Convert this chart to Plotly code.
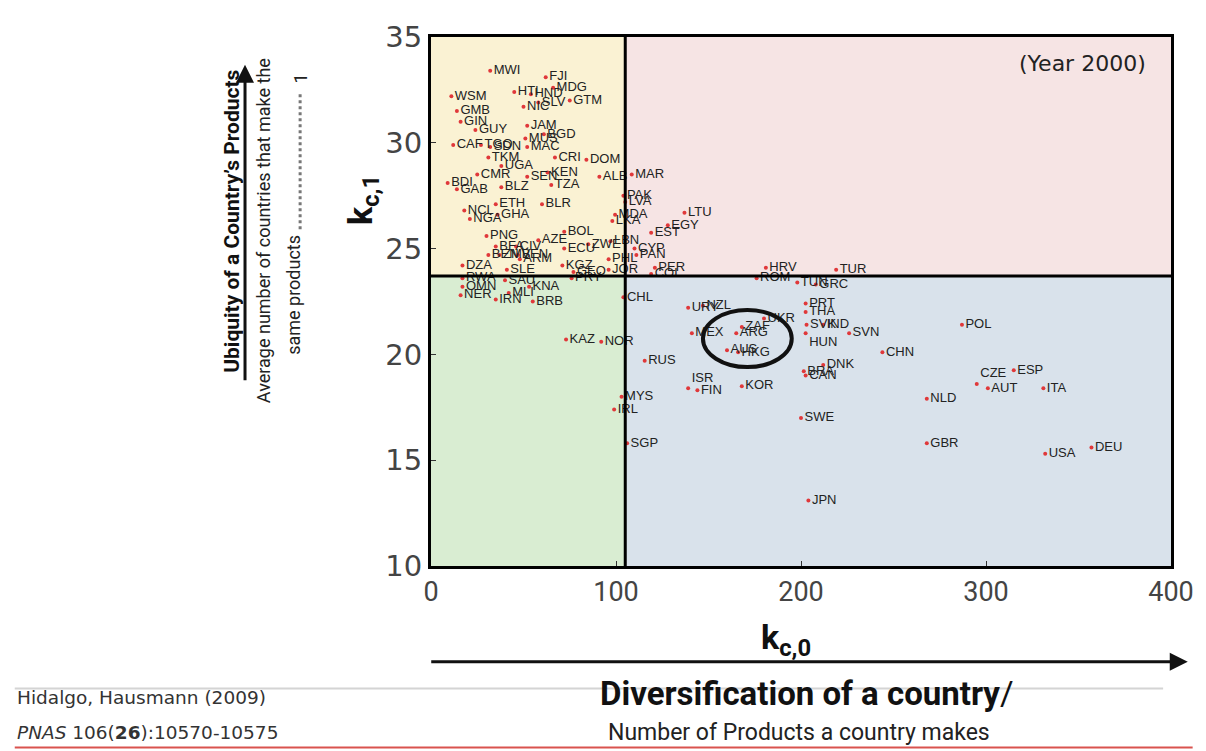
import plotly.graph_objects as go

# country codes, diversification k_c0 and average ubiquity k_c1 (year 2000)
countries = [
    "MWI", "FJI", "MDG", "HTI", "HND", "SLV", "GTM", "NIC", "WSM", "GMB",
    "GIN", "GUY", "JAM", "MUS", "BGD", "TGO", "CAF", "SDN", "MAC", "TKM",
    "CRI", "DOM", "UGA", "SEN", "CMR", "KEN", "ALB", "TZA", "BDI", "GAB",
    "BLZ", "ETH", "NCL", "BLR", "NGA", "GHA", "PNG", "AZE", "BOL", "BFA",
    "CIV", "ECU", "ZWE", "ZMB", "VEN", "BEN", "ARM", "DZA", "KGZ", "PHL",
    "GEO", "PRY", "JOR", "SLE", "RWA", "OMN", "SAU", "KNA", "MLI", "NER",
    "IRN", "BRB", "KAZ", "NOR", "IRL", "CHL", "MYS", "SGP", "RUS", "NZL",
    "URY", "MEX", "ZAF", "ARG", "AUS", "HKG", "UKR", "ISR", "FIN", "KOR",
    "HRV", "TUR", "ROM", "TUN", "GRC", "PRT", "THA", "SVK", "IND", "HUN",
    "SVN", "CHN", "POL", "BRA", "DNK", "CAN", "CZE", "AUT", "ESP", "ITA",
    "NLD", "SWE", "GBR", "USA", "DEU", "JPN", "MAR", "PAK", "LVA", "MDA",
    "LKA", "LTU", "EGY", "EST", "LBN", "CYP", "PAN", "PER", "COL",
]
k_c0 = [
    32, 62, 66, 45, 54, 58, 75, 50, 11, 14,
    16, 24, 52, 51, 61, 27, 12, 32, 52, 31,
    67, 84, 38, 52, 25, 63, 91, 65, 9, 14,
    38, 35, 18, 60, 21, 36, 30, 58, 72, 35,
    46, 72, 85, 37, 47, 31, 48, 17, 71, 96,
    77, 76, 96, 41, 17, 17, 40, 53, 42, 16,
    35, 55, 73, 92, 99, 104, 103, 106, 115.5, 147,
    139, 141, 168, 165, 160, 166, 180, 139, 144, 168,
    181, 219, 176, 198, 208, 202.5, 202.5, 203, 212, 202.5,
    226, 244, 287, 201.5, 212, 202.5, 295, 301, 315, 331,
    268, 200, 268, 332, 357, 204, 108.5, 104, 105, 99.5,
    98, 137, 128, 119, 97, 110, 111, 121, 119,
]
k_c1 = [
    33.4, 33.1, 32.6, 32.4, 32.3, 31.9, 32.0, 31.7, 32.2, 31.5,
    31.0, 30.6, 30.8, 30.2, 30.4, 29.9, 29.9, 29.8, 29.8, 29.3,
    29.3, 29.2, 28.9, 28.4, 28.5, 28.6, 28.4, 28.0, 28.1, 27.8,
    27.9, 27.1, 26.8, 27.1, 26.4, 26.6, 25.6, 25.4, 25.8, 25.1,
    25.1, 25.0, 25.2, 24.7, 24.7, 24.7, 24.5, 24.2, 24.2, 24.5,
    23.9, 23.6, 24.0, 24.0, 23.6, 23.2, 23.5, 23.2, 22.9, 22.8,
    22.6, 22.5, 20.7, 20.6, 17.4, 22.7, 18.0, 15.8, 19.7, 22.3,
    22.2, 21.0, 21.3, 21.0, 20.2, 20.1, 21.7, 18.4, 18.3, 18.5,
    24.1, 24.0, 23.6, 23.4, 23.3, 22.4, 22.0, 21.4, 21.4, 21.0,
    21.0, 20.1, 21.4, 19.2, 19.5, 19.0, 18.6, 18.4, 19.25, 18.4,
    17.9, 17.0, 15.8, 15.3, 15.6, 13.1, 28.5, 27.5, 27.2, 26.6,
    26.3, 26.7, 26.1, 25.75, 25.35, 25.0, 24.7, 24.1, 23.8,
]

x_ticks = [0, 100, 200, 300, 400]
y_ticks = [10, 15, 20, 25, 30, 35]
x_split = 105   # diversification split between quadrants
y_split = 23.7  # ubiquity split between quadrants
circled = [147, 195, 19.4, 22.1]  # x0, x1, y0, y1 of the highlighted group

# labels that sit above / below their dot in the original figure
label_pos = {"ISR": "top right", "CZE": "top right", "HUN": "bottom right"}
text_positions = [label_pos.get(c, "middle right") for c in countries]

# page offset of the browser body margin; figure is drawn inside it
OFF = 8
W, H = 1206 - OFF, 751 - OFF
# plot area in page pixels
L, R, T, B = 431, 1183, 30, 566


def px(x):
    return (x - L) / (R - L)


def py(y):
    return (B - y) / (B - T)


fig = go.Figure()

fig.add_trace(go.Scatter(
    x=k_c0, y=k_c1, text=countries,
    mode="markers+text",
    textposition=text_positions,
    textfont=dict(family="Liberation Sans, Arial", size=13, color="#222"),
    marker=dict(color="#e0383a", size=4),
    hoverinfo="text",
    showlegend=False,
    cliponaxis=False,
))

quad = [
    (0, x_split, y_split, 35, "#faf2d3"),
    (x_split, 400, y_split, 35, "#f6e4e4"),
    (0, x_split, 10, y_split, "#d9edd2"),
    (x_split, 400, 10, y_split, "#d9e2eb"),
]
shapes = []
for x0, x1, y0, y1, col in quad:
    shapes.append(dict(type="rect", xref="x", yref="y", x0=x0, x1=x1, y0=y0, y1=y1,
                       fillcolor=col, line=dict(width=0), layer="below"))
shapes += [
    dict(type="line", xref="x", yref="y", x0=x_split, x1=x_split, y0=10, y1=35,
         line=dict(color="black", width=3)),
    dict(type="line", xref="x", yref="y", x0=0, x1=400, y0=y_split, y1=y_split,
         line=dict(color="black", width=3)),
    dict(type="circle", xref="x", yref="y", x0=circled[0], x1=circled[1],
         y0=circled[2], y1=circled[3], line=dict(color="#111", width=4)),
    # faint rule under the x-axis caption
    dict(type="line", xref="paper", yref="paper", x0=px(OFF), x1=px(1175),
         y0=py(690), y1=py(690), line=dict(color="#d4d4d4", width=2)),
    # dotted leader next to the y caption
    dict(type="line", xref="paper", yref="paper", x0=px(298), x1=px(298),
         y0=py(88), y1=py(225), line=dict(color="#777", width=3, dash="dot")),
    # red page border along the bottom edge
    dict(type="line", xref="paper", yref="paper", x0=px(OFF), x1=px(1205),
         y0=py(750), y1=py(750), line=dict(color="#d9534f", width=2)),
]

cond = "Roboto, Liberation Sans Narrow, sans-serif"
annotations = [
    dict(text="(Year 2000)", x=px(1093), y=py(57), font=dict(family="DejaVu Sans", size=22, color="#222")),
    dict(text="<b>k<sub>c,1</sub></b>", x=px(362), y=py(195), textangle=-90,
         font=dict(family=cond, size=34, color="#111")),
    dict(text="<b>k<sub>c,0</sub></b>", x=px(792), y=py(640),
         font=dict(family=cond, size=34, color="#111")),
    dict(text="<b>Ubiquity of a Country’s Products</b>", x=px(228), y=py(217), textangle=-90,
         font=dict(family=cond, size=21, color="#111")),
    dict(text="Average number of countries that make the", x=px(261), y=py(226), textangle=-90,
         font=dict(family=cond, size=18, color="#222")),
    dict(text="same products", x=px(291), y=py(291), textangle=-90,
         font=dict(family=cond, size=18, color="#222")),
    dict(text="1", x=px(298), y=py(72), textangle=-90,
         font=dict(family=cond, size=18, color="#222")),
    dict(text="<b>Diversification of a country</b>/", x=px(813), y=py(695),
         font=dict(family=cond, size=33, color="#111")),
    dict(text="Number of Products a country makes", x=px(805), y=py(735),
         font=dict(family=cond, size=23, color="#222")),
    dict(text="Hidalgo, Hausmann (2009)", x=px(OFF), y=py(699), xanchor="left",
         font=dict(family="DejaVu Sans", size=18.5, color="#333")),
    dict(text="<i>PNAS</i> 106(<b>26</b>):10570-10575", x=px(OFF), y=py(735), xanchor="left",
         font=dict(family="DejaVu Sans", size=18.5, color="#333")),
    # arrows along the captions
    dict(text="", x=px(1200), y=py(663), ax=442 - 1200, ay=0, showarrow=True,
         arrowhead=2, arrowsize=1.2, arrowwidth=3, arrowcolor="#111"),
    dict(text="", x=px(242), y=py(58), ax=0, ay=375 - 58, showarrow=True,
         arrowhead=2, arrowsize=1.2, arrowwidth=3, arrowcolor="#111"),
]
for a in annotations:
    a.setdefault("xref", "paper")
    a.setdefault("yref", "paper")
    a.setdefault("xanchor", "center")
    a.setdefault("yanchor", "middle")
    a.setdefault("showarrow", False)

fig.update_layout(
    width=W, height=H,
    margin=dict(l=L - OFF, r=1206 - R, t=T - OFF, b=751 - B),
    paper_bgcolor="white", plot_bgcolor="white",
    shapes=shapes, annotations=annotations,
    xaxis=dict(range=[0, 400], tickvals=x_ticks, showgrid=False, zeroline=False,
               showline=True, linecolor="black", linewidth=3, mirror=True,
               ticks="inside", ticklen=5, tickcolor="#333",
               tickfont=dict(family=cond, size=27, color="#444")),
    yaxis=dict(range=[10, 35], tickvals=y_ticks, showgrid=False, zeroline=False,
               showline=True, linecolor="black", linewidth=3, mirror=True,
               ticks="inside", ticklen=5, tickcolor="#333",
               tickfont=dict(family="DejaVu Sans", size=29, color="#444")),
)

fig.write_html("out.html")
